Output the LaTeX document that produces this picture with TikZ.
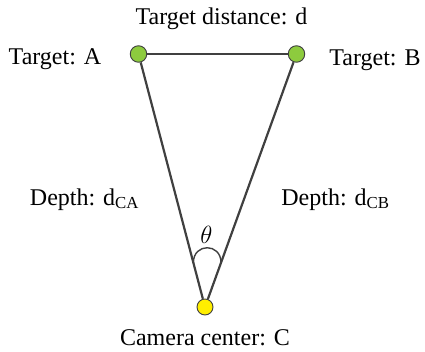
\documentclass[tikz,border=0pt]{standalone}
\usepackage{fontspec}
\setmainfont{Liberation Serif}
\usepackage{tikz}
\usetikzlibrary{calc}

\definecolor{lineGray}{HTML}{404040}
\definecolor{targetGreen}{HTML}{8DCB3E}
\definecolor{camYellow}{HTML}{FFEE00}

\begin{document}
\begin{tikzpicture}[x=1pt, y=1pt,
    target/.style={circle, draw=lineGray, line width=0.9pt, fill=targetGreen, minimum size=16.5pt, inner sep=0pt},
    camera/.style={circle, draw=lineGray, line width=0.9pt, fill=camYellow, minimum size=16pt, inner sep=0pt},
    side/.style={draw=lineGray, line width=2.2pt},
    lbl/.style={anchor=base, inner sep=0pt, font=\fontsize{24}{28}\selectfont}]
        % --- 1. Frame ---
        \useasboundingbox (0,0) rectangle (425,351);

        % --- 2. Points ---
        \node[target] (A) at (138.5,297) {};
        \node[target] (B) at (296.5,297) {};
        \node[camera] (C) at (205,44) {};

        % --- 3. Triangle sides ---
        \draw[side] (A) -- (B);
        \draw[side] (C) -- (A);
        \draw[side] (C) -- (B);

        % --- 4. Angle at C ---
        \coordinate (P1) at ($(C.center)!0.175!(A.center)$);
        \coordinate (P2) at ($(C.center)!0.175!(B.center)$);
        \draw[lineGray, line width=1.4pt] (P1) .. controls ($(P1)+(0,20)$) and ($(P2)+(0,20)$) .. (P2);
        \node[inner sep=0pt, font=\fontsize{23}{27}\selectfont] (theta) at (206.5,116) {$\theta$};

        % --- 5. Labels ---
        \node[lbl] (labD) at (221.5,326) {Target distance: d};
        \node[lbl] (labA) at (55,286) {Target: A};
        \node[lbl] (labB) at (375,285) {Target: B};
        \node[lbl] (labCA) at (84.5,146) {Depth: d\textsubscript{CA}};
        \node[lbl] (labCB) at (335.5,146) {Depth: d\textsubscript{CB}};
        \node[lbl] (labC) at (205,6) {Camera center: C};
    \end{tikzpicture}
\end{document}
